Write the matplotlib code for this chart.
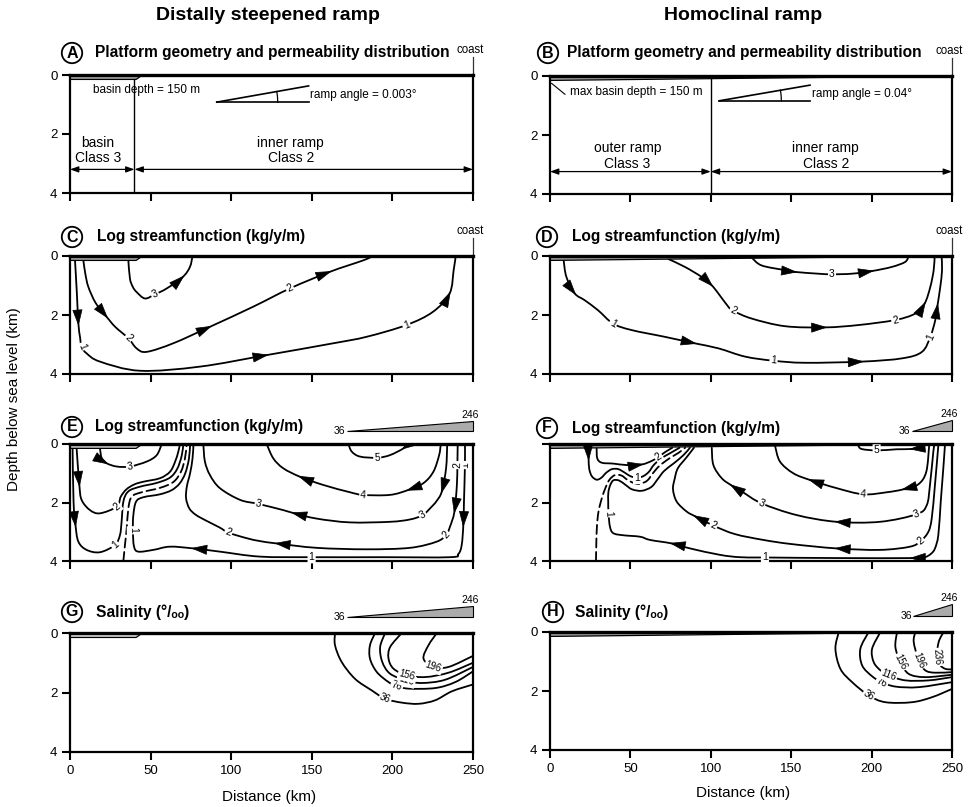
import numpy as np
import matplotlib.pyplot as plt
from matplotlib.path import Path
from matplotlib.patches import PathPatch, Polygon, FancyArrowPatch

plt.rcParams['font.family'] = ['Liberation Sans', 'DejaVu Sans']

# ---------------- data (km along section, km depth) ----------------
# panel C - distally steepened ramp, log streamfunction
c_psi1 = [(3.1, 0.15), (4.2, 1.2), (5.2, 2.29), (6.2, 2.74), (7.2, 3.08), (10.3, 3.30), (18.6, 3.58),
          (43.4, 3.89), (80.6, 3.75), (121.9, 3.36), (163.2, 2.96), (183.9, 2.74), (208.7, 2.34),
          (225.2, 1.89), (235.5, 1.27), (238, 0.48), (239.3, 0)]
c_psi2 = [(8.3, 0.15), (9.5, 0.6), (11.4, 1.05), (16, 1.6), (22.7, 2.06), (28, 2.4), (36.2, 2.79),
          (41.3, 3.13), (47.5, 3.25), (64, 2.96), (86.8, 2.4), (113.6, 1.72), (136.4, 1.1),
          (161, 0.54), (181.8, 0.15), (188, 0)]
c_psi3 = [(36.2, 0.15), (37.2, 0.77), (39, 1.05), (41.3, 1.22), (46.5, 1.44), (52.7, 1.3), (60, 1.1),
          (70, 0.71), (74.4, 0.37), (76, 0)]

# panel D - homoclinal ramp, log streamfunction
d_psi1 = [(8.5, 0.15), (10.2, 0.71), (15.4, 1.27), (21.6, 1.5), (29.9, 1.84), (39.2, 2.29), (50.7, 2.51),
          (71.4, 2.74), (90, 2.96), (104.7, 3.13), (121.3, 3.41), (139, 3.55), (158.6, 3.62),
          (193.9, 3.58), (218.9, 3.47), (231.3, 3.25), (236.5, 2.74), (239.6, 2.17), (241, 1.67),
          (242.7, 1.05), (243.8, 0.48), (243.5, 0)]
d_psi2 = [(73.5, 0.1), (83.9, 0.37), (94.3, 0.71), (100.5, 0.99), (104.7, 1.27), (110.9, 1.72),
          (114, 1.86), (125.4, 2.12), (146.2, 2.38), (171.1, 2.42), (191.9, 2.34), (214.7, 2.17),
          (227.2, 1.95), (233, 1.61), (236.5, 1.05), (238.6, 0.48), (239.2, 0)]
d_psi3 = [(125.4, 0.05), (131.6, 0.32), (146.2, 0.48), (152.4, 0.54), (166.9, 0.6), (175.2, 0.62),
          (187.7, 0.6), (200.2, 0.51), (212.6, 0.37), (220.9, 0.2), (223, 0)]

# panel E - distally steepened ramp with brine, log streamfunction
e_left1 = [(1.6, 0.15), (2.2, 1.97), (3.4, 2.77), (5.2, 3.34), (10.3, 3.62), (18.6, 3.7), (27.9, 3.45),
           (31, 3.11), (32, 2.66), (33.1, 1.97), (36.2, 1.62), (43.4, 1.46), (53.8, 1.33), (62, 1.15),
           (66.5, 0.85), (69.3, 0.4), (70.3, 0)]
e_left2 = [(4.1, 0.15), (5.8, 1.4), (7.2, 1.91), (12.4, 2.26), (18.6, 2.37), (29, 2.14), (31.5, 1.8),
           (35, 1.55), (40, 1.38), (45.5, 1.29), (55.8, 1.17), (62, 0.95), (65.1, 0.62), (67.2, 0.26),
           (68.2, 0)]
e_left3 = [(18.6, 0.15), (19.7, 0.49), (22.8, 0.66), (29, 0.77), (37.2, 0.77), (47.6, 0.6), (53.8, 0.38),
           (56.9, 0)]
e_divide = [(33.1, 4.0), (34.1, 3.45), (35.2, 2.88), (36.2, 2.2), (38.3, 1.8), (44.5, 1.65), (55.8, 1.5),
            (64.1, 1.3), (68.8, 0.95), (71.3, 0.5), (72.4, 0)]
e_right1 = [(74.5, 0), (73.8, 0.5), (71.5, 1.0), (68, 1.35), (63, 1.58), (55.8, 1.72), (45.5, 1.82),
            (41, 1.97), (39.3, 2.43), (39, 2.95), (39.7, 3.5), (42.4, 3.68), (51.7, 3.62), (62, 3.51),
            (76.5, 3.57), (93, 3.68), (117.9, 3.85), (149.9, 3.87), (194.4, 3.87), (235.7, 3.87),
            (240.9, 3.76), (243, 3.45), (244, 2.77), (244.4, 1.97), (245, 0.72), (245, 0)]
e_right2 = [(76.6, 0), (76, 0.5), (74.5, 1.0), (72.5, 1.45), (72, 1.85), (74, 2.2), (78, 2.42),
            (84.8, 2.63), (93, 2.86), (98.2, 3.03), (109.6, 3.22), (117.9, 3.32), (128.2, 3.4),
            (153, 3.55), (184, 3.6), (210.9, 3.55), (227.4, 3.34), (233.3, 3.11), (235.7, 2.83),
            (238.5, 2.31), (240, 1.4), (240.3, 0.72), (240.5, 0)]
e_right3 = [(82.7, 0), (83.7, 0.6), (86.8, 1.06), (93, 1.51), (105.5, 1.91), (117, 2.05), (132.3, 2.26),
            (138.5, 2.36), (153, 2.55), (173.7, 2.68), (198.5, 2.66), (210.9, 2.58), (218.8, 2.43),
            (224.4, 2.14), (227.4, 1.95), (230.6, 1.63), (233.3, 0.83), (234, 0)]
e_right4 = [(122, 0), (126.1, 0.49), (132.3, 0.83), (142.7, 1.12), (157.1, 1.4), (173.7, 1.65),
            (181.9, 1.74), (198.5, 1.74), (209.9, 1.57), (219.2, 1.34), (225.4, 0.95), (229, 0.38),
            (230, 0)]
e_right5 = [(172.7, 0), (174.8, 0.26), (179.9, 0.43), (190.6, 0.47), (198.5, 0.38), (206.8, 0.15),
            (208.9, 0)]

# panel F - homoclinal ramp with brine, log streamfunction
f_left1 = [(23.8, 0.15), (24, 0.5), (24.4, 0.85), (26, 1.1), (29, 1.22), (32, 1.15), (35, 0.98),
           (38.5, 0.86), (42.5, 0.86), (46.5, 0.98), (50, 1.1), (53.9, 1.15), (58, 1.1), (61.5, 0.95),
           (64.5, 0.72), (69, 0.5), (74.5, 0.32), (80.5, 0.13)]
f_left2 = [(29, 0.15), (29.4, 0.49), (32.2, 0.64), (39.4, 0.67), (47.7, 0.72), (57, 0.7), (63.2, 0.58),
           (67.5, 0.44), (71.5, 0.28), (76, 0.13)]
f_divide = [(28.6, 4.0), (28.8, 3.4), (29.2, 2.8), (30.2, 2.3), (32.2, 1.86), (34.5, 1.5), (37, 1.22),
            (40.5, 1.06), (44.5, 1.08), (48, 1.22), (52, 1.33), (56, 1.36), (60.5, 1.25), (64, 1.0),
            (68, 0.75), (74, 0.5), (80, 0.3), (84, 0.13)]
f_right1 = [(87, 0.13), (83, 0.38), (77, 0.66), (71, 0.92), (67, 1.2), (63, 1.47), (57, 1.6), (51, 1.55),
            (47, 1.4), (43, 1.25), (39.5, 1.24), (37.5, 1.4), (36.3, 1.65), (36.2, 1.97), (36.4, 2.37),
            (37.3, 2.83), (39.4, 3.05), (45.6, 3.12), (56, 3.17), (62.2, 3.28), (75.7, 3.4), (87.1, 3.57),
            (105.7, 3.79), (118.2, 3.87), (133.7, 3.88), (180, 3.9), (225, 3.9), (233, 3.87), (237, 3.75),
            (239.4, 3.57), (241.5, 3.11), (243, 1.97), (244.6, 0.83), (245.6, 0.05)]
f_right2 = [(89.5, 0.13), (85, 0.45), (79.5, 0.83), (77.5, 1.2), (76.5, 1.55), (78.8, 1.97), (85, 2.31),
            (90.2, 2.47), (101.6, 2.79), (115, 3.08), (132.7, 3.28), (150, 3.42), (178.3, 3.57),
            (205.2, 3.62), (223.9, 3.51), (230.5, 3.32), (235.3, 3.0), (237.4, 2.54), (239.4, 1.4),
            (241.5, 0.05)]
f_right3 = [(100.6, 0.13), (101.6, 0.72), (106.8, 1.17), (113, 1.42), (120, 1.65), (131.6, 2.03),
            (153.4, 2.43), (178.3, 2.66), (205.2, 2.66), (228, 2.4), (234.3, 2.09), (236.3, 1.4),
            (238.4, 0.26), (239, 0.05)]
f_right4 = [(139.9, 0.05), (143, 0.6), (151.3, 1.0), (161.7, 1.23), (178.3, 1.51), (194.8, 1.72),
            (209.4, 1.65), (219.7, 1.55), (229, 1.38), (234, 0.95), (235.8, 0.05)]
f_right5 = [(191.7, 0.05), (193.8, 0.17), (203.1, 0.22), (215.6, 0.18), (224.9, 0.17), (231.1, 0.1),
            (232.1, 0.05)]

# panel G / H - salinity contours (per mil)
g_36 = [(164.4, 0), (164.4, 0.41), (168.5, 0.97), (176.8, 1.54), (187.2, 1.93), (195.5, 2.21), (205.8, 2.34),
        (216.2, 2.38), (226.6, 2.26), (236.9, 1.96), (250, 1.73)]
g_76 = [(189.3, 0), (186.1, 0.41), (186.1, 0.86), (190.3, 1.31), (197.6, 1.65), (202.7, 1.78), (210, 1.87),
        (226.6, 1.85), (239, 1.65), (250, 1.29)]
g_116 = [(195.5, 0), (192.4, 0.47), (193.7, 0.97), (198.6, 1.37), (209, 1.6), (218.3, 1.68), (232.8, 1.57),
         (250, 1.14)]
g_156 = [(205.8, 0), (198.6, 0.47), (197.6, 0.86), (200.7, 1.2), (209, 1.42), (220.6, 1.48), (235.1, 1.33),
         (250, 1.0)]
g_196 = [(227.6, 0), (222.4, 0.41), (219.3, 0.86), (225.5, 1.14), (234.9, 1.14), (250, 0.77)]

h_36 = [(179.6, 0), (177.5, 0.57), (180.6, 1.25), (187.9, 1.7), (198.2, 2.15), (208.6, 2.38), (225.1, 2.38),
        (237.6, 2.21), (250, 1.93)]
h_76 = [(198.2, 0), (193, 0.57), (194.1, 1.13), (200.3, 1.5), (206.5, 1.7), (214.8, 1.85), (229.3, 1.87),
        (250, 1.7)]
h_116 = [(205.5, 0), (200.3, 0.57), (201.3, 1.02), (205.5, 1.3), (210.6, 1.47), (221, 1.64), (235.5, 1.64),
         (250, 1.53)]
h_156 = [(215.8, 0), (214.8, 0.51), (218, 1.02), (223.1, 1.42), (233.4, 1.53), (250, 1.45)]
h_196 = [(227.2, 0), (226.2, 0.34), (229.3, 0.96), (233.4, 1.3), (239.6, 1.38), (250, 1.36)]
h_236 = [(244.8, 0), (241.7, 0.34), (240.7, 0.85), (242.8, 1.13), (245.9, 1.25), (250, 1.27)]

# geometry
basin_edge = 40           # km, basin / inner ramp boundary (distally steepened)
outer_edge = 100          # km, outer / inner ramp boundary (homoclinal)
basin_depth = 0.15        # km
brine_low, brine_high = '36', '246'

W, H = 969, 807
fig = plt.figure(figsize=(W / 100, H / 100), dpi=100)


def fx(px):
    return px / W


def fy(py):
    return 1 - py / H


def make_axes(x0, x1, y0, y1, xlabels=False, zero=True):
    ax = fig.add_axes([fx(x0), fy(y1), (x1 - x0) / W, (y1 - y0) / H])
    ax.set_xlim(0, 250)
    ax.set_ylim(4, 0)
    ax.set_xticks([0, 50, 100, 150, 200, 250])
    ax.set_yticks([0, 2, 4])
    ax.set_yticklabels(['0' if zero else '', '2', '4'])
    if not xlabels:
        ax.set_xticklabels([])
    ax.tick_params(direction='out', length=6, width=1.5, labelsize=9.5, pad=3)
    for s in ax.spines.values():
        s.set_linewidth(1.6)
    ax.spines['top'].set_linewidth(2.4)
    return ax


def smooth(pts):
    p = np.asarray(pts, float)
    n = len(p)
    verts, codes = [p[0]], [Path.MOVETO]
    for i in range(n - 1):
        p0 = p[i - 1] if i > 0 else p[i]
        p3 = p[i + 2] if i + 2 < n else p[i + 1]
        verts += [p[i] + (p[i + 1] - p0) / 6, p[i + 1] - (p3 - p[i]) / 6, p[i + 1]]
        codes += [Path.CURVE4] * 3
    return Path(verts, codes)


def line(ax, pts, labels=(), arrows=(), ls='-', fs=7.5):
    p = np.asarray(pts, float)
    ax.add_patch(PathPatch(smooth(pts), fill=False, ec='k', lw=1.3, ls=ls, capstyle='round'))
    d = ax.transData.transform(p)
    inv = ax.transData.inverted()
    n = len(p)
    for i, sgn in arrows:
        v = d[min(i + 1, n - 1)] - d[max(i - 1, 0)]
        v = sgn * v / np.hypot(*v)
        ax.add_patch(FancyArrowPatch(inv.transform(d[i] - 6 * v), inv.transform(d[i] + 5 * v),
                                     arrowstyle='-|>,head_length=0.7,head_width=0.22',
                                     mutation_scale=15, color='k', lw=0.5, zorder=4))
    for txt, i in labels:
        v = d[min(i + 1, n - 1)] - d[max(i - 1, 0)]
        ang = np.degrees(np.arctan2(v[1], v[0]))
        if ang > 90:
            ang -= 180
        if ang < -90:
            ang += 180
        ax.text(p[i, 0], p[i, 1], txt, rotation=ang, rotation_mode='anchor', ha='center', va='center',
                fontsize=fs, zorder=5, bbox=dict(fc='white', ec='none', pad=0.8))


def steep_wedge(ax, fc='#a8a8a8'):
    ax.add_patch(Polygon([(0, 0), (basin_edge + 5, 0), (basin_edge + 1, basin_depth), (0, basin_depth)],
                         closed=True, fc=fc, ec='k', lw=0.9, zorder=2))


def homo_wedge(ax):
    ax.add_patch(Polygon([(0, 0), (250, 0), (0, basin_depth)], closed=True, fc='#a0a0a0', ec='k',
                         lw=0.9, zorder=2))


def coast(ax, y_top=-0.62):
    ax.plot([250, 250], [0, y_top], color='#333333', lw=0.9, clip_on=False)
    ax.text(248.5, y_top - 0.02, 'coast', ha='center', va='bottom', fontsize=8.3)


def brine_scale(ax, x0, y0, y1, ytxt):
    ax.add_patch(Polygon([(x0, y0), (250, y0), (250, y1)], closed=True, fc='#ababab', ec='k', lw=0.8,
                         clip_on=False))
    ax.text(x0 - 1, y0, brine_low, ha='right', va='center', fontsize=7.5)
    ax.text(248.5, ytxt, brine_high, ha='center', va='center', fontsize=7.5)


def ramp_symbol(ax, apex, end, r_px, txt, txt_xy):
    ax.plot([apex[0], end[0]], [apex[1], end[1]], 'k', lw=1.2)
    ax.plot([apex[0], end[0]], [apex[1], apex[1]], 'k', lw=1.2)
    a = ax.transData.transform(apex)
    e = ax.transData.transform(end)
    th = np.arctan2(e[1] - a[1], e[0] - a[0])
    t = np.linspace(0, th, 20)
    arc = ax.transData.inverted().transform(np.c_[a[0] + r_px * np.cos(t), a[1] + r_px * np.sin(t)])
    ax.plot(arc[:, 0], arc[:, 1], 'k', lw=0.9)
    ax.text(txt_xy[0], txt_xy[1], txt, ha='left', va='center', fontsize=8.5)


def span_arrow(ax, xa, xb, y):
    ax.annotate('', xy=(xb, y), xytext=(xa, y),
                arrowprops=dict(arrowstyle='<|-|>,head_length=0.5,head_width=0.18', mutation_scale=10,
                                lw=0.9, color='k', shrinkA=0, shrinkB=0))


def zone_label(ax, x, y_top, y_bot, top, bottom):
    ax.text(x, y_top, top, ha='center', va='center', fontsize=10)
    ax.text(x, y_bot, bottom, ha='center', va='center', fontsize=10)


def panel_title(cx, cy, tx, letter, text):
    fig.text(fx(cx), fy(cy), letter, ha='center', va='center', fontsize=11.5, fontweight='bold',
             bbox=dict(boxstyle='circle,pad=0.17', fc='white', ec='k', lw=1.3))
    fig.text(fx(tx), fy(cy), text, ha='left', va='center', fontsize=11.2, fontweight='bold')


LX0, LX1, RX0, RX1 = 70, 473, 550, 952

# ---------------- A ----------------
axA = make_axes(LX0, LX1, 75, 193)
steep_wedge(axA)
axA.plot([basin_edge, basin_edge], [basin_depth, 4], 'k', lw=1.0)
axA.text(14.5, 0.51, 'basin depth = 150 m', fontsize=8.5, va='center')
ramp_symbol(axA, (91, 0.92), (148, 0.37), 61, 'ramp angle = 0.003°', (149, 0.68))
zone_label(axA, 17.5, 2.3, 2.8, 'basin', 'Class 3')
zone_label(axA, 137, 2.3, 2.8, 'inner ramp', 'Class 2')
span_arrow(axA, 0, basin_edge, 3.2)
span_arrow(axA, basin_edge, 250, 3.2)
coast(axA)

# ---------------- B ----------------
axB = make_axes(RX0, RX1, 76, 194)
homo_wedge(axB)
axB.plot([outer_edge, outer_edge], [0, 4], 'k', lw=1.0)
axB.plot([1, 9.3], [0.25, 0.62], 'k', lw=0.8)
axB.text(12.4, 0.53, 'max basin depth = 150 m', fontsize=8.5, va='center')
ramp_symbol(axB, (105.3, 0.84), (161.7, 0.31), 62, 'ramp angle = 0.04°', (162.7, 0.62))
zone_label(axB, 48.2, 2.45, 2.97, 'outer ramp', 'Class 3')
zone_label(axB, 171.5, 2.45, 2.97, 'inner ramp', 'Class 2')
span_arrow(axB, 0, outer_edge, 3.24)
span_arrow(axB, outer_edge, 250, 3.24)
coast(axB)

# ---------------- C ----------------
axC = make_axes(LX0, LX1, 256, 374)
steep_wedge(axC)
line(axC, c_psi1, [('1', 4), ('1', 12)], [(2, 1), (9, 1), (14, 1)])
line(axC, c_psi2, [('2', 6), ('2', 12)], [(4, 1), (10, 1), (13, 1)])
line(axC, c_psi3, [('3', 5)], [(7, 1)])
coast(axC)

# ---------------- D ----------------
axD = make_axes(RX0, RX1, 256, 374)
homo_wedge(axD)
line(axD, d_psi1, [('1', 5), ('1', 11), ('1', 16)], [(2, 1), (8, 1), (13, 1), (18, 1)])
line(axD, d_psi2, [('2', 6), ('2', 11)], [(3, 1), (9, 1), (13, 1)])
line(axD, d_psi3, [('3', 5)], [(3, 1), (7, 1)])
coast(axD)

# ---------------- E ----------------
axE = make_axes(LX0, LX1, 444, 561)
steep_wedge(axE, '#c8c8c8')
line(axE, e_left1, [('1', 6)], [(2, 1)])
line(axE, e_left2, [('2', 5)], [(1, 1)])
line(axE, e_left3, [('3', 4)], [(2, 1)])
line(axE, e_divide, ls=(0, (5, 2.5)))
line(axE, e_right1, [('1', 9), ('1', 17), ('1', 24)], [(14, -1), (22, -1)])
line(axE, e_right2, [('2', 9), ('2', 17), ('2', 21)], [(12, -1), (19, -1)])
line(axE, e_right3, [('3', 5), ('3', 12)], [(7, -1), (15, -1)])
line(axE, e_right4, [('4', 6)], [(3, -1), (8, -1)])
line(axE, e_right5, [('5', 3)], [(5, -1)])
brine_scale(axE, 172, -0.44, -0.79, -1.0)

# ---------------- F ----------------
axF = make_axes(RX0, RX1, 444, 561, zero=False)
homo_wedge(axF)
line(axF, f_left1, [('1', 11)], [(1, 1)])
line(axF, f_left2, [('2', 7)], [(5, 1)])
line(axF, f_divide, ls=(0, (5, 2.5)))
line(axF, f_right1, [('1', 14), ('1', 24)], [(20, -1), (26, -1)])
line(axF, f_right2, [('2', 8), ('2', 15)], [(7, -1), (12, -1)])
line(axF, f_right3, [('3', 5), ('3', 9)], [(3, -1), (7, -1)])
line(axF, f_right4, [('4', 5)], [(3, -1), (7, -1)])
line(axF, f_right5, [('5', 2)], [(4, -1)])
brine_scale(axF, 225, -0.44, -0.82, -1.03)

# ---------------- G ----------------
axG = make_axes(LX0, LX1, 633, 752, xlabels=True)
steep_wedge(axG, '#d8d8d8')
line(axG, g_36, [('36', 5)], fs=7)
line(axG, g_76, [('76', 5)], fs=7)
line(axG, g_116, [('116', 4)], fs=7)
line(axG, g_156, [('156', 4)], fs=7)
line(axG, g_196, [('196', 3)], fs=7)
brine_scale(axG, 172, -0.54, -0.91, -1.11)

# ---------------- H ----------------
axH = make_axes(RX0, RX1, 632, 750, xlabels=True)
homo_wedge(axH)
line(axH, h_36, [('36', 4)], fs=7)
line(axH, h_76, [('76', 4)], fs=7)
line(axH, h_116, [('116', 4)], fs=7)
line(axH, h_156, [('156', 2)], fs=7)
line(axH, h_196, [('196', 2)], fs=7)
line(axH, h_236, [('236', 2)], fs=7)
brine_scale(axH, 226, -0.54, -0.94, -1.14)

# ---------------- titles / labels ----------------
fig.text(fx(268), fy(15), 'Distally steepened ramp', ha='center', va='center', fontsize=14, fontweight='bold')
fig.text(fx(743), fy(15), 'Homoclinal ramp', ha='center', va='center', fontsize=14, fontweight='bold')

geom = 'Platform geometry and permeability distribution'
psi = 'Log streamfunction (kg/y/m)'
sal = 'Salinity (°/ₒₒ)'
panel_title(72, 53, 95, 'A', geom)
panel_title(548, 53, 567, 'B', geom)
panel_title(72, 237, 97, 'C', psi)
panel_title(547, 237, 572, 'D', psi)
panel_title(72, 427, 95, 'E', psi)
panel_title(547, 428, 572, 'F', psi)
panel_title(72, 612, 96, 'G', sal)
panel_title(553, 612, 575, 'H', sal)

fig.text(fx(14), fy(399), 'Depth below sea level (km)', rotation=90, ha='center', va='center', fontsize=11)
fig.text(fx(269), fy(797), 'Distance (km)', ha='center', va='center', fontsize=11)
fig.text(fx(743), fy(793), 'Distance (km)', ha='center', va='center', fontsize=11)

fig.savefig('out.png', dpi=100)
